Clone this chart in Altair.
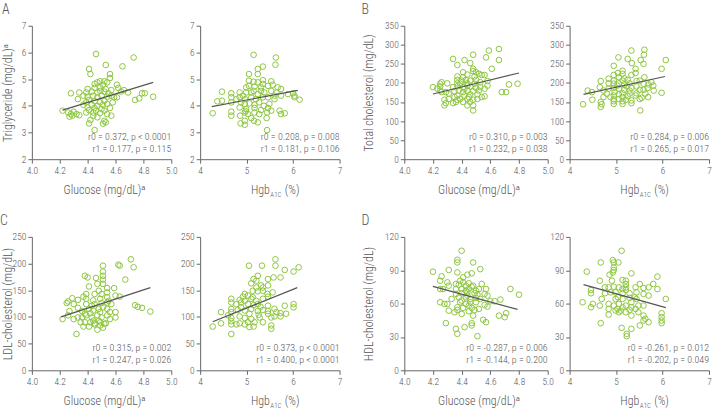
import altair as alt
import pandas as pd

FONT = "Roboto Condensed, Liberation Sans Narrow, DejaVu Sans Condensed, Roboto"
WEIGHT = 300
GREEN = "#8dc63f"
TEXT = "#555555"
AXIS = "#666666"
H = 134

# ---------------- data: (x, y) pairs per panel ----------------
tg_glucose = [
    (4.46, 5.94), (4.73, 5.81), (4.53, 5.53), (4.65, 5.48), (4.41, 5.38), (4.42, 5.19), (4.56, 5.19),
    (4.56, 5.04), (4.49, 4.92), (4.52, 4.92), (4.47, 4.88), (4.54, 4.88), (4.45, 4.82), (4.51, 4.79),
    (4.61, 4.79), (4.40, 4.63), (4.45, 4.67), (4.49, 4.69), (4.53, 4.63), (4.57, 4.59), (4.62, 4.67),
    (4.34, 4.50), (4.28, 4.47), (4.39, 4.50), (4.43, 4.53), (4.47, 4.50), (4.52, 4.53), (4.64, 4.54),
    (4.69, 4.50), (4.79, 4.47), (4.81, 4.47), (4.87, 4.34), (4.74, 4.22), (4.77, 4.28), (4.40, 4.34),
    (4.44, 4.38), (4.47, 4.32), (4.50, 4.38), (4.54, 4.34), (4.59, 4.32), (4.33, 4.25), (4.41, 4.22),
    (4.45, 4.17), (4.49, 4.13), (4.52, 4.19), (4.58, 4.13), (4.39, 4.13), (4.43, 4.04), (4.47, 4.00),
    (4.51, 4.04), (4.54, 4.07), (4.37, 4.04), (4.22, 3.82), (4.26, 3.75), (4.28, 3.69), (4.30, 3.78),
    (4.32, 3.69), (4.27, 3.59), (4.34, 3.65), (4.29, 3.63), (4.39, 3.75), (4.41, 3.84), (4.44, 3.75),
    (4.46, 3.82), (4.49, 3.73), (4.52, 3.82), (4.54, 3.69), (4.57, 3.63), (4.45, 3.92), (4.50, 3.88),
    (4.42, 3.47), (4.41, 3.34), (4.52, 3.44), (4.53, 3.38), (4.51, 3.33), (4.45, 3.09), (4.47, 3.57),
    (4.44, 3.63), (4.56, 3.92), (4.40, 3.94), (4.57, 4.38), (4.66, 4.59), (4.61, 4.32), (4.37, 4.38),
    (4.49, 4.56), (4.55, 4.47),
]
tg_hba1c = [
    (5.15, 5.91), (5.63, 5.81), (5.62, 5.54), (5.35, 5.47), (5.24, 5.38), (5.05, 5.19), (5.24, 5.19),
    (5.05, 4.94), (5.15, 4.90), (5.24, 4.88), (5.35, 4.96), (5.53, 4.92), (5.05, 4.75), (5.17, 4.72),
    (5.31, 4.69), (5.46, 4.75), (5.56, 4.79), (5.67, 4.69), (4.47, 4.53), (4.67, 4.47), (4.85, 4.50),
    (4.92, 4.38), (4.99, 4.50), (5.10, 4.50), (5.24, 4.44), (5.38, 4.50), (5.53, 4.56), (5.64, 4.50),
    (5.74, 4.63), (6.00, 4.47), (6.03, 4.38), (6.14, 4.23), (6.03, 4.32), (4.37, 4.17), (4.47, 4.19),
    (4.67, 4.32), (4.85, 4.32), (4.97, 4.25), (5.10, 4.32), (5.20, 4.25), (5.35, 4.32), (5.46, 4.32),
    (5.60, 4.25), (5.74, 4.38), (4.67, 4.13), (4.96, 4.07), (5.06, 4.09), (5.17, 4.04), (5.27, 4.13),
    (5.37, 4.00), (5.49, 4.07), (4.85, 3.94), (4.99, 3.88), (5.17, 3.92), (5.31, 3.84), (5.46, 3.92),
    (4.27, 3.72), (4.67, 3.78), (4.67, 3.63), (4.86, 3.63), (4.96, 3.75), (4.98, 3.80), (5.03, 3.69),
    (5.17, 3.75), (5.27, 3.69), (5.44, 3.75), (5.71, 3.82), (5.82, 3.72), (5.74, 3.69), (4.87, 3.34),
    (4.96, 3.44), (4.96, 3.29), (5.16, 3.44), (5.24, 3.38), (5.44, 3.09), (5.43, 3.54), (5.10, 3.54),
    (5.53, 3.82), (5.15, 4.56), (5.31, 4.56), (4.99, 4.69), (4.88, 4.13), (4.78, 4.25), (5.35, 4.82),
    (5.60, 4.38), (5.89, 4.44),
]
tc_glucose = [
    (4.66, 289), (4.59, 285), (4.48, 274), (4.34, 263), (4.42, 260), (4.46, 252), (4.57, 267),
    (4.66, 260), (4.37, 247), (4.61, 237), (4.48, 237), (4.48, 231), (4.52, 224), (4.54, 221),
    (4.56, 221), (4.44, 222), (4.37, 217), (4.41, 215), (4.49, 217), (4.37, 208), (4.40, 206),
    (4.43, 208), (4.46, 206), (4.50, 208), (4.26, 202), (4.25, 198), (4.30, 199), (4.37, 199),
    (4.39, 198), (4.44, 199), (4.49, 198), (4.53, 202), (4.58, 205), (4.20, 189), (4.25, 191),
    (4.37, 191), (4.41, 189), (4.46, 191), (4.50, 187), (4.79, 198), (4.73, 196), (4.29, 176),
    (4.25, 180), (4.35, 178), (4.38, 180), (4.41, 176), (4.44, 180), (4.48, 178), (4.52, 180),
    (4.31, 172), (4.37, 167), (4.42, 167), (4.46, 170), (4.51, 170), (4.68, 176), (4.71, 176),
    (4.39, 158), (4.44, 158), (4.48, 156), (4.51, 158), (4.54, 163), (4.56, 165), (4.28, 156),
    (4.29, 147), (4.34, 147), (4.36, 150), (4.28, 141), (4.41, 150), (4.46, 150), (4.48, 141),
    (4.44, 141), (4.48, 128), (4.23, 185), (4.34, 189), (4.58, 193), (4.42, 185), (4.45, 163),
    (4.37, 156), (4.53, 189), (4.35, 163), (4.50, 228), (4.41, 228), (4.56, 185), (4.31, 158),
    (4.26, 176), (4.44, 193),
]
tc_hba1c = [
    (5.33, 285), (5.61, 287), (5.60, 274), (5.05, 267), (5.25, 263), (5.53, 260), (5.34, 252),
    (4.95, 245), (6.07, 260), (5.98, 237), (5.42, 237), (5.14, 232), (4.95, 221), (5.14, 224),
    (5.33, 221), (5.42, 226), (5.61, 215), (5.06, 215), (5.18, 212), (4.67, 205), (4.95, 206),
    (5.14, 206), (5.25, 208), (5.44, 205), (4.84, 199), (4.95, 198), (5.06, 199), (5.18, 196),
    (5.29, 199), (5.59, 198), (5.70, 196), (5.80, 193), (4.39, 180), (4.73, 180), (4.84, 185),
    (4.95, 187), (5.06, 185), (5.18, 182), (5.33, 187), (5.51, 182), (5.68, 187), (4.48, 176),
    (4.97, 176), (5.14, 173), (5.29, 172), (5.44, 173), (5.63, 172), (5.98, 174), (4.88, 163),
    (4.95, 167), (5.14, 163), (5.25, 165), (5.42, 167), (5.55, 161), (5.69, 163), (4.49, 156),
    (4.67, 150), (4.69, 144), (4.67, 137), (4.95, 152), (4.95, 145), (4.95, 157), (5.14, 152),
    (5.33, 154), (5.51, 158), (4.29, 144), (5.14, 145), (5.33, 147), (5.52, 128), (5.06, 158),
    (5.44, 191), (5.23, 191), (5.03, 193), (4.65, 189), (4.80, 172), (5.59, 182), (5.81, 180),
    (5.51, 206), (5.04, 226), (5.29, 180), (5.59, 250), (5.06, 170), (5.21, 156), (4.84, 211),
    (5.76, 202), (4.73, 163),
]
ldl_glucose = [
    (4.71, 208), (4.73, 193), (4.62, 198), (4.63, 196), (4.51, 196), (4.51, 185), (4.51, 170),
    (4.38, 177), (4.40, 174), (4.67, 170), (4.46, 173), (4.41, 157), (4.47, 162), (4.51, 162),
    (4.54, 154), (4.59, 154), (4.48, 149), (4.54, 146), (4.39, 143), (4.45, 143), (4.50, 143),
    (4.60, 140), (4.29, 135), (4.33, 132), (4.26, 129), (4.25, 126), (4.39, 134), (4.44, 131),
    (4.49, 134), (4.54, 137), (4.39, 124), (4.45, 124), (4.50, 126), (4.54, 127), (4.57, 124),
    (4.74, 122), (4.76, 119), (4.79, 117), (4.85, 110), (4.27, 111), (4.33, 117), (4.36, 111),
    (4.41, 115), (4.44, 112), (4.48, 115), (4.51, 118), (4.56, 109), (4.60, 109), (4.22, 96),
    (4.26, 103), (4.30, 96), (4.33, 99), (4.39, 103), (4.43, 99), (4.47, 103), (4.50, 99),
    (4.54, 103), (4.60, 99), (4.38, 90), (4.42, 90), (4.45, 88), (4.49, 90), (4.53, 88),
    (4.37, 82), (4.41, 82), (4.45, 86), (4.51, 80), (4.52, 87), (4.32, 68), (4.44, 93),
    (4.48, 93), (4.35, 90), (4.54, 115), (4.42, 107), (4.43, 121), (4.30, 124), (4.49, 109),
    (4.37, 138), (4.55, 130), (4.63, 138), (4.38, 106), (4.56, 96), (4.47, 76), (4.49, 84),
    (4.36, 99), (4.51, 177),
]
ldl_hba1c = [
    (5.62, 208), (5.62, 196), (5.05, 196), (5.33, 196), (6.12, 193), (6.01, 185), (5.82, 188),
    (5.24, 177), (5.15, 171), (5.21, 168), (5.46, 171), (5.58, 174), (5.73, 174), (5.10, 163),
    (5.31, 159), (5.35, 155), (5.21, 155), (5.13, 149), (5.24, 148), (5.45, 143), (5.46, 138),
    (5.56, 146), (5.03, 140), (4.92, 138), (4.67, 134), (4.85, 132), (4.96, 130), (5.10, 134),
    (5.21, 130), (5.35, 134), (4.67, 127), (4.78, 124), (4.88, 127), (5.03, 124), (5.15, 122),
    (5.30, 119), (5.46, 121), (5.60, 115), (5.82, 121), (6.01, 124), (6.01, 118), (4.45, 109),
    (4.67, 115), (4.67, 109), (4.81, 113), (4.96, 112), (5.10, 115), (5.24, 111), (5.35, 113),
    (5.46, 111), (5.64, 109), (5.73, 107), (5.73, 101), (4.27, 82), (4.45, 88), (4.67, 98),
    (4.67, 92), (4.67, 86), (4.85, 101), (4.96, 98), (4.85, 88), (4.96, 86), (5.10, 96),
    (5.17, 90), (5.15, 82), (5.28, 99), (5.35, 90), (5.26, 104), (5.46, 106), (5.53, 99),
    (5.53, 84), (5.53, 78), (4.67, 68), (4.78, 86), (5.03, 90), (5.60, 101), (5.85, 106),
    (5.24, 124), (5.13, 137), (5.35, 149), (4.88, 118), (5.06, 106), (4.60, 103), (5.46, 159),
    (5.06, 81), (4.96, 143),
]
hdl_glucose = [
    (4.40, 107.5), (4.37, 99.4), (4.37, 97.0), (4.48, 97.0), (4.20, 88.7), (4.31, 90.2), (4.37, 88.0),
    (4.53, 91.0), (4.47, 87.2), (4.44, 86.0), (4.26, 84.5), (4.30, 79.1), (4.25, 80.6), (4.39, 80.6),
    (4.41, 79.1), (4.45, 78.2), (4.38, 77.0), (4.43, 76.1), (4.47, 75.2), (4.25, 73.1), (4.27, 73.1),
    (4.36, 73.1), (4.40, 73.1), (4.45, 73.1), (4.52, 73.1), (4.57, 73.1), (4.74, 73.1), (4.80, 68.0),
    (4.36, 68.7), (4.40, 69.3), (4.44, 70.1), (4.49, 69.3), (4.51, 68.1), (4.56, 68.7), (4.38, 65.7),
    (4.43, 65.7), (4.46, 64.2), (4.50, 65.1), (4.63, 62.1), (4.60, 62.1), (4.67, 63.6), (4.25, 61.2),
    (4.28, 59.7), (4.30, 59.7), (4.39, 61.2), (4.43, 59.7), (4.46, 61.2), (4.50, 61.2), (4.56, 58.8),
    (4.58, 57.3), (4.37, 56.7), (4.41, 56.1), (4.47, 56.1), (4.49, 54.3), (4.31, 53.7), (4.37, 54.3),
    (4.45, 53.1), (4.66, 49.2), (4.70, 47.8), (4.71, 51.4), (4.55, 45.4), (4.57, 43.3), (4.47, 42.4),
    (4.47, 40.3), (4.29, 42.4), (4.36, 37.3), (4.37, 32.8), (4.42, 38.8), (4.51, 30.7), (4.41, 83.6),
    (4.36, 77.6), (4.54, 77.6), (4.50, 71.6), (4.44, 67.2), (4.33, 64.2), (4.53, 64.2), (4.40, 62.7),
    (4.45, 58.2), (4.52, 55.2), (4.40, 50.7), (4.35, 52.2), (4.48, 49.2), (4.48, 76.1), (4.43, 71.6),
    (4.58, 67.2), (4.31, 76.1),
]
hdl_hba1c = [
    (5.12, 107.5), (4.93, 99.1), (4.95, 97.0), (5.05, 97.0), (4.67, 97.0), (4.37, 88.7), (4.95, 92.5),
    (4.95, 90.1), (4.93, 88.0), (5.33, 87.2), (4.86, 86.0), (5.14, 81.2), (5.21, 80.6), (5.21, 77.6),
    (4.65, 80.6), (5.89, 84.2), (4.46, 72.2), (4.46, 69.3), (4.84, 74.6), (4.95, 75.2), (5.06, 74.6),
    (5.21, 74.6), (5.42, 74.6), (5.51, 77.6), (5.59, 74.0), (5.70, 74.6), (5.80, 77.6), (4.76, 69.3),
    (4.88, 70.1), (4.99, 70.1), (5.14, 69.3), (5.29, 69.3), (5.44, 70.1), (5.59, 68.7), (5.70, 67.2),
    (6.07, 64.2), (4.69, 64.2), (4.99, 64.2), (5.14, 64.2), (5.29, 65.1), (5.44, 64.2), (4.28, 61.2),
    (4.50, 59.7), (4.46, 56.7), (4.84, 59.7), (4.95, 58.2), (5.06, 59.7), (5.14, 56.7), (5.21, 58.2),
    (5.33, 56.7), (5.48, 58.2), (5.59, 58.2), (5.03, 55.2), (5.10, 53.7), (5.29, 54.3), (5.42, 55.2),
    (4.84, 50.1), (4.99, 53.7), (5.59, 49.2), (5.63, 46.3), (5.70, 43.3), (5.59, 44.8), (5.98, 51.3),
    (5.98, 47.8), (5.98, 44.8), (5.98, 42.4), (4.67, 42.4), (5.51, 40.3), (5.12, 38.2), (5.33, 37.3),
    (5.23, 32.8), (5.23, 30.7), (5.14, 73.1), (5.33, 61.2), (5.04, 65.7), (4.84, 55.2), (5.21, 52.2),
    (5.40, 65.7), (4.76, 74.6), (4.91, 80.6), (5.21, 72.2), (5.06, 52.2), (5.89, 73.1), (4.65, 58.2),
    (5.33, 49.2), (5.48, 52.2),
]

# fitted lines: (x start, y start, x end, y end)
fit_tg_glucose = (4.22, 3.84, 4.87, 4.88)
fit_tg_hba1c = (4.25, 3.97, 6.10, 4.58)
fit_tc_glucose = (4.20, 171, 4.80, 226)
fit_tc_hba1c = (4.30, 170, 6.05, 217)
fit_ldl_glucose = (4.21, 100, 4.85, 155)
fit_ldl_hba1c = (4.27, 91, 6.09, 155)
fit_hdl_glucose = (4.20, 75.5, 4.79, 54.8)
fit_hdl_hba1c = (4.30, 77, 6.07, 56.3)

# correlation summaries
stats_tg_glucose = ["r0 = 0.372, p < 0.0001", "r1 = 0.177, p = 0.115"]
stats_tg_hba1c = ["r0 = 0.208, p = 0.008", "r1 = 0.181, p = 0.106"]
stats_tc_glucose = ["r0 = 0.310, p = 0.003", "r1 = 0.232, p = 0.038"]
stats_tc_hba1c = ["r0 = 0.284, p = 0.006", "r1 = 0.265, p = 0.017"]
stats_ldl_glucose = ["r0 = 0.315, p = 0.002", "r1 = 0.247, p = 0.026"]
stats_ldl_hba1c = ["r0 = 0.373, p < 0.0001", "r1 = 0.400, p < 0.0001"]
stats_hdl_glucose = ["r0 = -0.287, p = 0.006", "r1 = -0.144, p = 0.200"]
stats_hdl_hba1c = ["r0 = -0.261, p = 0.012", "r1 = -0.202, p = 0.049"]

glucose_ticks = [4.0, 4.2, 4.4, 4.6, 4.8, 5.0]
hba1c_ticks = [4, 5, 6, 7]
tg_ticks = [2, 3, 4, 5, 6, 7]
tc_ticks = [0, 50, 100, 150, 200, 250, 300, 350]
ldl_ticks = [0, 50, 100, 150, 200, 250]
hdl_ticks = [0, 30, 60, 90, 120]


def label(text, x, y, size=12, align="center", color=TEXT):
    return alt.Chart(pd.DataFrame({"t": [text]})).mark_text(
        align=align, baseline="alphabetic", font=FONT, fontSize=size, fontWeight=WEIGHT, color=color
    ).encode(text="t:N", x=alt.value(x), y=alt.value(y))


def panel(points, fit, stats, xkind, yticks, ytitle=None, letter=None, yext=20, ypad=3,
          letter_x=-31, w=140):
    df = pd.DataFrame(points, columns=["x", "y"])
    if xkind == "glucose":
        xticks, xfmt = glucose_ticks, ".1f"
    else:
        xticks, xfmt = hba1c_ticks, "d"
    xscale = alt.Scale(domain=[xticks[0], xticks[-1]], nice=False, zero=False)
    yscale = alt.Scale(domain=[yticks[0], yticks[-1]], nice=False, zero=False)
    xaxis = alt.Axis(values=xticks, format=xfmt, title=None, labelOverlap=False)
    if ytitle:
        yaxis = alt.Axis(values=yticks, title=ytitle, minExtent=yext, maxExtent=yext,
                         titlePadding=ypad, labelOverlap=False)
    else:
        yaxis = alt.Axis(values=yticks, title=None, labelOverlap=False)
    xenc = alt.X("x:Q", scale=xscale, axis=xaxis)
    yenc = alt.Y("y:Q", scale=yscale, axis=yaxis)

    pts = alt.Chart(df).mark_point(
        shape="circle", filled=False, size=32, strokeWidth=1, color=GREEN, opacity=1
    ).encode(x=xenc, y=yenc)

    fit_df = pd.DataFrame({"x": [fit[0], fit[2]], "y": [fit[1], fit[3]]})
    line = alt.Chart(fit_df).mark_line(color="#555555", strokeWidth=1.2).encode(x=xenc, y=yenc)

    layers = [pts, line,
              label(stats[0], w, 115, size=10, align="right"),
              label(stats[1], w, 127, size=10, align="right")]

    if xkind == "glucose":
        layers.append(label("Glucose (mg/dL)\u1d43", w / 2 + 3, H + 35))
    else:
        layers.append(label("Hgb", w / 2, H + 35, align="right"))
        layers.append(label("A1C", w / 2 + 0.5, H + 38, size=7, align="left"))
        layers.append(label("(%)", w / 2 + 15, H + 35, align="left"))

    if letter:
        layers.append(label(letter, letter_x, -12, size=14, align="left"))

    return alt.layer(*layers).properties(width=w, height=H)


def pair(left, right, gap):
    return alt.hconcat(left, right, spacing=gap, bounds="flush")


a = pair(panel(tg_glucose, fit_tg_glucose, stats_tg_glucose, "glucose", tg_ticks,
               "Triglyceride (mg/dL)\u1d43", "A", yext=14, ypad=3, letter_x=-30),
         panel(tg_hba1c, fit_tg_hba1c, stats_tg_hba1c, "hba1c", tg_ticks), 29)
b = pair(panel(tc_glucose, fit_tc_glucose, stats_tc_glucose, "glucose", tc_ticks,
               "Total cholesterol (mg/dL)", "B", yext=25, ypad=4, letter_x=-43, w=144),
         panel(tc_hba1c, fit_tc_hba1c, stats_tc_hba1c, "hba1c", tc_ticks), 22)
c = pair(panel(ldl_glucose, fit_ldl_glucose, stats_ldl_glucose, "glucose", ldl_ticks,
               "LDL-cholesterol (mg/dL)", "C", yext=14, ypad=3, letter_x=-32),
         panel(ldl_hba1c, fit_ldl_hba1c, stats_ldl_hba1c, "hba1c", ldl_ticks), 29)
d = pair(panel(hdl_glucose, fit_hdl_glucose, stats_hdl_glucose, "glucose", hdl_ticks,
               "HDL-cholesterol (mg/dL)", "D", yext=25, ypad=4, letter_x=-43, w=144),
         panel(hdl_hba1c, fit_hdl_hba1c, stats_hdl_hba1c, "hba1c", hdl_ticks), 22)

top = alt.hconcat(a, b, spacing=19)
bottom = alt.hconcat(c, d, spacing=19)

chart = alt.vconcat(top, bottom, spacing=16).configure(
    padding={"left": 0, "top": 2, "right": 0, "bottom": 0}
).configure_view(stroke=None).configure_axis(
    grid=False,
    domainColor=AXIS, domainWidth=1,
    tickColor=AXIS, tickSize=4, tickWidth=1,
    labelFont=FONT, labelFontSize=9.5, labelFontWeight=WEIGHT, labelColor=TEXT, labelPadding=2,
    labelOverlap=False, labelFlush=False,
    titleFont=FONT, titleFontSize=12, titleColor=TEXT, titleFontWeight=WEIGHT,
)

chart.save("out.html", embed_options={"renderer": "svg", "actions": False})
